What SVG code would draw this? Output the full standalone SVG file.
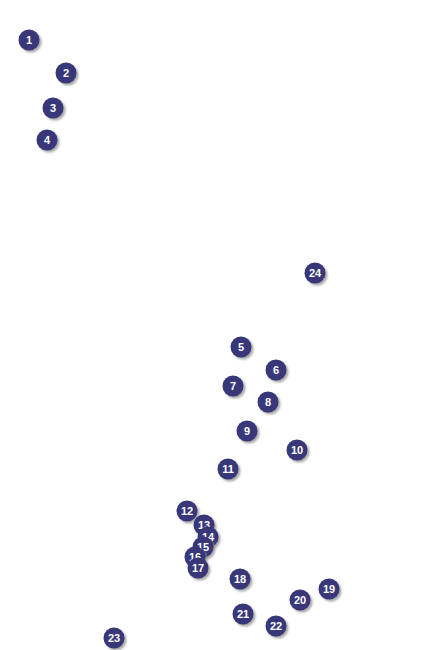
<svg xmlns="http://www.w3.org/2000/svg" width="435" height="650" viewBox="0 0 435 650">
<style>
.sh{fill:#8a8a8a;opacity:0.75;filter:url(#b)}
.c{fill:#37377a}
.t{fill:#fff;font-family:"Liberation Sans",Arial,sans-serif;font-weight:bold;font-size:11px;text-anchor:middle;dominant-baseline:central}
</style>
<defs>
<filter id="b" x="-50%" y="-50%" width="200%" height="200%"><feGaussianBlur stdDeviation="1"/></filter>
<g id="m"><circle class="sh" cx="2" cy="2" r="10.5"/><circle class="c" r="10.5"/></g>
</defs>
<rect width="435" height="650" fill="#fff"/>
<g id="connectors"/>
<g id="n1" transform="translate(29,40)"><use href="#m"/><text class="t">1</text></g>
<g id="n2" transform="translate(66,73)"><use href="#m"/><text class="t">2</text></g>
<g id="n3" transform="translate(53,108)"><use href="#m"/><text class="t">3</text></g>
<g id="n4" transform="translate(47,140)"><use href="#m"/><text class="t">4</text></g>
<g id="n5" transform="translate(241,347)"><use href="#m"/><text class="t">5</text></g>
<g id="n6" transform="translate(276,370)"><use href="#m"/><text class="t">6</text></g>
<g id="n7" transform="translate(233,386)"><use href="#m"/><text class="t">7</text></g>
<g id="n8" transform="translate(268,402)"><use href="#m"/><text class="t">8</text></g>
<g id="n9" transform="translate(247,431)"><use href="#m"/><text class="t">9</text></g>
<g id="n10" transform="translate(297,450)"><use href="#m"/><text class="t">10</text></g>
<g id="n11" transform="translate(228,469)"><use href="#m"/><text class="t">11</text></g>
<g id="n12" transform="translate(187,511)"><use href="#m"/><text class="t">12</text></g>
<g id="n13" transform="translate(204,525)"><use href="#m"/><text class="t">13</text></g>
<g id="n14" transform="translate(208,537)"><use href="#m"/><text class="t">14</text></g>
<g id="n15" transform="translate(203,547)"><use href="#m"/><text class="t">15</text></g>
<g id="n16" transform="translate(195,557)"><use href="#m"/><text class="t">16</text></g>
<g id="n17" transform="translate(198,568)"><use href="#m"/><text class="t">17</text></g>
<g id="n18" transform="translate(240,579)"><use href="#m"/><text class="t">18</text></g>
<g id="n19" transform="translate(329,589)"><use href="#m"/><text class="t">19</text></g>
<g id="n20" transform="translate(300,600)"><use href="#m"/><text class="t">20</text></g>
<g id="n21" transform="translate(243,614)"><use href="#m"/><text class="t">21</text></g>
<g id="n22" transform="translate(276,626)"><use href="#m"/><text class="t">22</text></g>
<g id="n23" transform="translate(114,638)"><use href="#m"/><text class="t">23</text></g>
<g id="n24" transform="translate(315,273)"><use href="#m"/><text class="t">24</text></g>
</svg>
